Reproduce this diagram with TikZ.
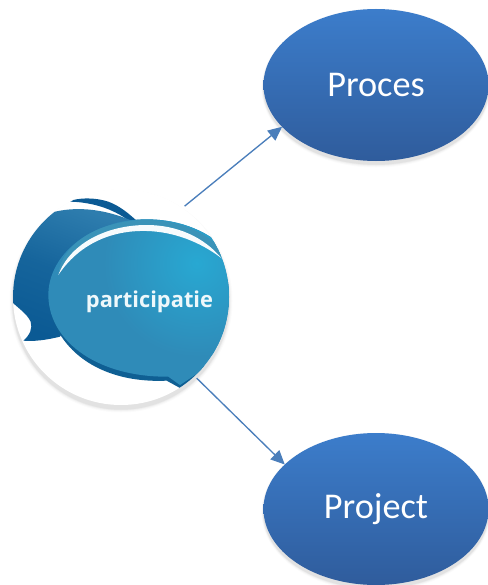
\documentclass[tikz,border=0pt]{standalone}
\usepackage{fontspec}
\setmainfont{Carlito}
\newfontfamily\bubblefont{Open Sans}
\usetikzlibrary{shapes.geometric,arrows.meta}
\definecolor{ovaltop}{HTML}{3C7DCB}
\definecolor{ovalbot}{HTML}{2F5C9C}
\definecolor{linkblue}{HTML}{4A7EBB}
\definecolor{backdark}{HTML}{0B5A94}
\definecolor{backlight}{HTML}{2E7DAE}
\definecolor{frontmain}{HTML}{2F8BB8}
\definecolor{frontlight}{HTML}{28A8D2}
\definecolor{frontrim}{HTML}{0F5F93}
\definecolor{toprim}{HTML}{3A93B8}
\tikzset{
  oval/.style={ellipse,minimum width=168.75pt,minimum height=114pt,inner sep=0pt,outer sep=0pt,
    top color=ovaltop,bottom color=ovalbot,text=white,font=\fontsize{27.2}{32}\selectfont},
  link/.style={draw=linkblue,line width=1pt,-{Triangle[length=10.5pt,width=9.5pt]}},
  zoomed/.style={x=0.25pt,y=-0.25pt,shift={(0,-135pt)}}
}
\begin{document}
\begin{tikzpicture}[x=0.75pt,y=-0.75pt]
\useasboundingbox (0,0) rectangle (488,585);
\fill[white] (0,0) rectangle (488,585);
% soft shadows
\foreach \r/\o in {7/0.015,5/0.025,3/0.035,1.5/0.04}{
  \fill[black,opacity=\o] (376,88) ellipse ({112.5+\r*0.3} and {76+\r*0.5});
  \fill[black,opacity=\o] (376,512) ellipse ({112.5+\r*0.3} and {76+\r*0.5});
  \fill[black,opacity=\o] (121,301) circle ({108+\r*0.5});
}
\node[circle,minimum size=162pt,inner sep=0pt,outer sep=2.2pt,fill=white] (badge) at (121,297) {};
\begin{scope}
  \clip (121,297) circle (108);
  \begin{scope}[zoomed]
    % back bubble top band
    \fill[backdark] (205,65) .. controls (235,52) and (285,52) .. (325,65) .. controls (360,78) and (385,100) .. (410,122) -- (390,125) .. controls (340,85) and (270,65) .. (205,65) -- cycle;
    % back bubble body
    \shade[left color=backlight,right color=backdark,middle color=backdark!70!backlight,shading angle=-20]
      (165,95) .. controls (240,78) and (320,90) .. (395,122)
      -- (300,260) -- (180,470)
      .. controls (140,480) and (100,485) .. (70,482)
      .. controls (90,465) and (98,445) .. (92,425)
      .. controls (80,400) and (55,385) .. (35,365)
      -- (20,340) -- (40,240) .. controls (70,170) and (115,120) .. (165,95) -- cycle;
    % front rim
    \fill[frontrim] (145,350) .. controls (150,480) and (270,612) .. (500,602)
      -- (540,624) -- (600,585) -- (720,300) -- (500,300) -- cycle;
    % front bubble
    \begin{scope}
      \clip (145,350) .. controls (142,220) and (280,118) .. (440,118)
        .. controls (570,118) and (680,180) .. (720,270)
        -- (720,500) -- (600,575)
        -- (540,615) -- (505,590)
        .. controls (300,592) and (150,490) .. (145,350) -- cycle;
      \fill[frontmain] (100,100) rectangle (750,650);
      \shade[inner color=frontlight,outer color=frontmain] (590,250) circle (280);
    \end{scope}
    % upper rim shading
    \fill[toprim] (175,282) .. controls (185,190) and (300,120) .. (440,120)
      .. controls (540,120) and (630,160) .. (680,225) -- (660,230)
      .. controls (600,170) and (520,135) .. (440,135)
      .. controls (320,135) and (215,190) .. (175,282) -- cycle;
    % white highlight
    \fill[white!96!frontlight] (175,285) .. controls (210,190) and (320,135) .. (440,135)
      .. controls (530,135) and (610,170) .. (665,235)
      .. controls (600,185) and (520,155) .. (440,153)
      .. controls (330,150) and (235,195) .. (175,285) -- cycle;
  \end{scope}
\end{scope}
\node[text=white!92!frontlight,font=\bubblefont\bfseries\fontsize{16.4}{18}\selectfont,anchor=base] (word) at (149.5,307) {participatie};
\node[oval] (proces) at (376,85) {Proces};
\node[oval] (project) at (376,509) {Project};
\draw[link] (badge.55) -- (proces.204);
\draw[link] (badge.-47) -- (project.154);
\end{tikzpicture}
\end{document}
